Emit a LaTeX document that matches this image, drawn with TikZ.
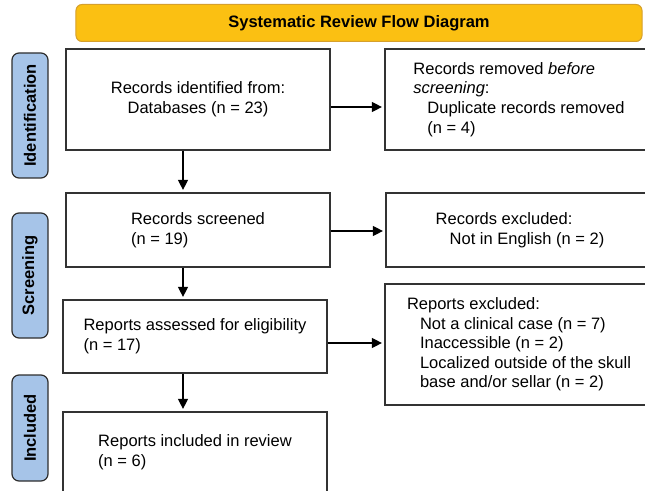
\documentclass[tikz,border=0pt]{standalone}
\usepackage{fontspec}
\setmainfont{Liberation Sans}
\usetikzlibrary{arrows.meta}
\definecolor{titlefill}{HTML}{FBC012}
\definecolor{titledraw}{HTML}{D6A02C}
\definecolor{labfill}{HTML}{A6C4E8}
\definecolor{labdraw}{HTML}{2E2E2E}
\definecolor{boxdraw}{HTML}{333333}
\tikzset{
  stagebox/.style={draw=boxdraw, line width=1.2bp, fill=white, align=left, inner sep=0pt},
  sidelab/.style={draw=labdraw, line width=1.2bp, fill=labfill, rounded corners=7bp, rotate=90,
    minimum height=36bp, inner sep=0pt, font=\bfseries},
  titlebox/.style={draw=titledraw, line width=1bp, fill=titlefill, rounded corners=6bp,
    minimum width=566bp, minimum height=37bp, font=\bfseries, inner sep=0pt},
  arr/.style={draw=black, line width=1.2bp, -{Triangle[length=10bp,width=10bp]}, shorten >=2.5bp},
}
\begin{document}
\begin{tikzpicture}[x=1bp,y=-1bp]
\fontsize{16.5bp}{19.6bp}\selectfont
\useasboundingbox (0,0) rectangle (645,491);
% title
\node[titlebox] (title) at (359,23) {Systematic Review Flow Diagram};
% side labels
\node[sidelab, minimum width=125bp] (lab1) at (30,115.5) {Identification};
\node[sidelab, minimum width=125bp] (lab2) at (30,275.5) {Screening};
\node[sidelab, minimum width=106bp] (lab3) at (30,428) {Included};
% boxes
\node[stagebox, minimum width=264bp, minimum height=101bp, align=center] (b1) at (198,99.5)
  {Records identified from:\\Databases (n = 23)};
\node[stagebox, minimum width=268bp, minimum height=101bp] (b2) at (519,99.5)
  {Records removed \textit{before}\\\textit{screening}:\\\hspace*{14bp}Duplicate records removed\\\hspace*{14bp}(n = 4)};
\node[stagebox, minimum width=264bp, minimum height=74bp] (b3) at (198,230)
  {Records screened\\(n = 19)};
\node[stagebox, minimum width=268bp, minimum height=74bp] (b4) at (520,230)
  {Records excluded:\\\hspace*{14bp}Not in English (n = 2)};
\node[stagebox, minimum width=264bp, minimum height=73bp] (b5) at (195,336.5)
  {Reports assessed for eligibility\\(n = 17)};
\node[stagebox, minimum width=268bp, minimum height=121bp] (b6) at (519,344.5)
  {Reports excluded:\\\hspace*{13bp}Not a clinical case (n = 7)\\\hspace*{13bp}Inaccessible (n = 2)\\\hspace*{13bp}Localized outside of the skull\\\hspace*{13bp}base and/or sellar (n = 2)};
\node[stagebox, minimum width=264bp, minimum height=80bp] (b7) at (195,452)
  {Reports included in review\\(n = 6)};
% helper coordinates for connector lines
\coordinate (vx) at (183,0);
\coordinate (r1) at (0,107);
\coordinate (r2) at (0,231);
\coordinate (r3) at (0,343);
% connectors
\draw[arr] (b1.east |- r1) -- (b2.west |- r1);
\draw[arr] (b3.east |- r2) -- (b4.west |- r2);
\draw[arr] (b5.east |- r3) -- (b6.west |- r3);
\draw[arr] (b1.south -| vx) -- (b3.north -| vx);
\draw[arr] (b3.south -| vx) -- (b5.north -| vx);
\draw[arr] (b5.south -| vx) -- (b7.north -| vx);
\end{tikzpicture}
\end{document}
